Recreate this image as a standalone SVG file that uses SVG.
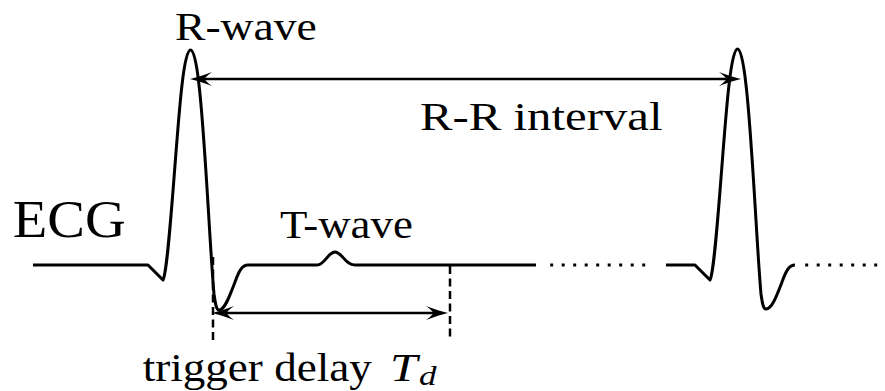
<svg xmlns="http://www.w3.org/2000/svg" width="885" height="391" viewBox="0 0 885 391">
<defs>
<marker id="ah" markerUnits="userSpaceOnUse" viewBox="-24 -8 26 16" markerWidth="26" markerHeight="16" refX="-8" refY="0" orient="auto-start-reverse">
<path d="M0,0 Q-9,-2 -22,-7 Q-15,-2 -15,0 Q-15,2 -22,7 Q-9,2 0,0 Z" fill="#000"/>
</marker>
</defs>
<g id="ecg-trace" fill="none" stroke="#000" stroke-width="3" stroke-linejoin="round">
<path d="M33,265 H148 L163,280 C169,270 176,135 182,85 C185,58 188,50 190.5,50 C193,50 196,57 199,85 C205,135 210,250 214,294 C215.5,305 216.5,310 219,310 C225,310 230,295 235,282 C239,271 242,265 248,265 H317 C325,265 328,252 335,252 C342,252 345,265 355,265 H536"/>
<path d="M666,265 H695 L710,280 C716,270 723,135 729,85 C732,58 735,49 737.5,49 C740,49 743,57 746,85 C752,135 757,250 761,294 C762.5,305 763.5,309 766,309 C772,309 777,295 782,282 C786,271 789,265 795,265"/>
<g stroke-dasharray="0 11.5" stroke-linecap="square">
<line x1="551.7" y1="265" x2="644" y2="265"/>
<line x1="806.7" y1="265" x2="877" y2="265"/>
</g>
</g>
<g id="connectors" fill="none" stroke="#000">
<g stroke-width="2.7" marker-start="url(#ah)" marker-end="url(#ah)">
<line x1="198" y1="79" x2="733" y2="79"/>
<line x1="220" y1="313" x2="440" y2="313"/>
</g>
<g stroke-width="2.5" stroke-dasharray="8 4.5">
<line x1="213" y1="257" x2="213" y2="342"/>
<line x1="450" y1="266" x2="450" y2="337"/>
</g>
</g>
<g id="labels" font-family="Liberation Serif, serif" fill="#000">
<g id="label-rwave"><text font-family="Liberation Serif" transform="translate(175,40) scale(1.14,1)" font-size="40">R-wave</text></g>
<g id="label-rr"><text font-family="Liberation Serif" transform="translate(420,130) scale(1.19,1)" font-size="41">R-R interval</text></g>
<g id="label-ecg"><text font-family="Liberation Serif" transform="translate(12.7,237) scale(1.066,1)" font-size="53">ECG</text></g>
<g id="label-twave"><text font-family="Liberation Serif" transform="translate(280,237.5) scale(1.094,1)" font-size="41">T-wave</text></g>
<g id="label-trigger"><text font-family="Liberation Serif" transform="translate(142.7,381) scale(1.1,1)" font-size="41">trigger delay</text><text font-family="Liberation Serif" font-style="italic" transform="translate(390,381) scale(1.2,1)" font-size="41">T</text><text font-family="Liberation Serif" font-style="italic" transform="translate(419,385) scale(1.25,1)" font-size="28">d</text></g>
</g>
</svg>
